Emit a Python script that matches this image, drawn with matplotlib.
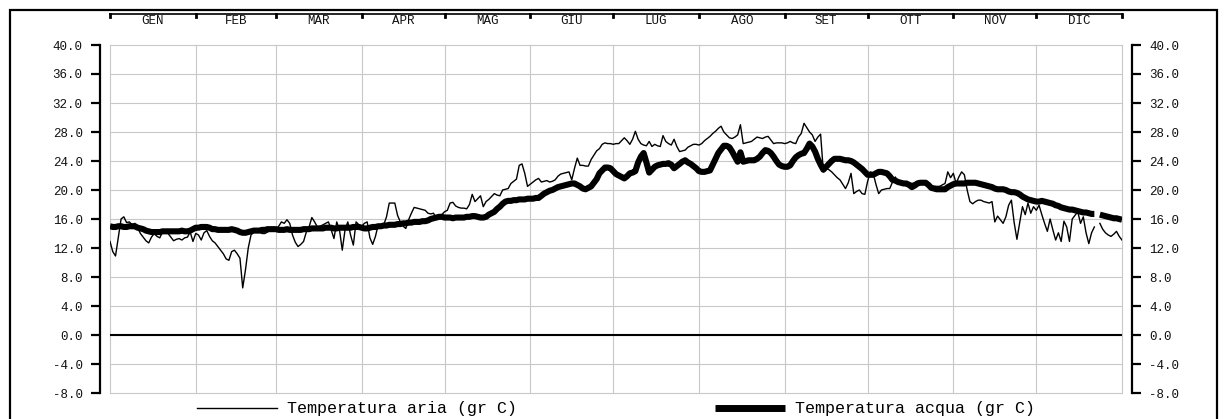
import numpy as np
import matplotlib
matplotlib.use("Agg")
import matplotlib.pyplot as plt
from matplotlib.lines import Line2D
from matplotlib.patches import Rectangle
from matplotlib.transforms import blended_transform_factory

nan = np.nan

months = ["GEN", "FEB", "MAR", "APR", "MAG", "GIU", "LUG", "AGO", "SET", "OTT", "NOV", "DIC"]
month_days = [31, 29, 31, 30, 31, 30, 31, 31, 30, 31, 30, 31]

# daily air temperature (gr C), day 0 .. 366
aria = [
    12.9, 11.5, 10.9, 13.5, 16.0, 16.3, 15.5, 15.6, 15.2, 15.4,
    14.8, 14.0, 13.5, 13.0, 12.7, 13.5, 14.0, 13.6, 13.4, 14.2,
    14.5, 14.0, 13.5, 13.0, 13.2, 13.3, 13.1, 13.4, 13.5, 14.2,
    12.9, 14.0, 13.8, 13.1, 14.1, 14.4, 13.6, 13.0, 12.7, 12.2,
    11.7, 11.2, 10.5, 10.3, 11.5, 11.7, 11.2, 10.6, 6.5, 9.0,
    12.0, 13.8, 14.2, 14.5, 14.2, 14.0, 14.0, 14.2, 14.5, 14.5,
    14.5, 15.0, 15.6, 15.4, 15.9, 15.4, 13.8, 12.8, 12.2, 12.5,
    12.9, 14.2, 14.9, 16.2, 15.6, 14.9, 15.0, 15.2, 15.4, 15.6,
    14.5, 13.3, 15.6, 14.5, 11.7, 14.5, 15.6, 13.8, 12.4, 15.6,
    15.2, 15.0, 15.4, 15.6, 13.4, 12.5, 13.6, 15.2, 14.9, 15.2,
    16.3, 18.2, 18.2, 18.2, 16.5, 15.6, 15.0, 14.7, 15.9, 16.8,
    17.6, 17.5, 17.4, 17.3, 17.2, 16.8, 16.7, 16.8, 16.1, 16.3,
    16.6, 17.0, 17.2, 18.2, 18.3, 17.8, 17.6, 17.5, 17.5, 17.4,
    18.0, 19.4, 18.4, 18.8, 19.2, 17.7, 18.4, 18.7, 19.1, 19.5,
    19.3, 19.2, 20.0, 20.1, 20.2, 20.9, 21.2, 21.5, 23.4, 23.6,
    22.3, 20.5, 20.8, 21.1, 21.4, 21.6, 21.1, 21.2, 21.3, 21.1,
    21.2, 21.4, 21.9, 22.2, 22.3, 22.4, 22.5, 21.4, 23.0, 24.4,
    23.4, 23.4, 23.3, 23.3, 24.2, 24.8, 25.4, 25.7, 26.3, 26.5,
    26.4, 26.4, 26.3, 26.4, 26.4, 26.8, 27.2, 26.8, 26.3, 27.0,
    28.1, 27.0, 26.4, 26.2, 26.1, 26.7, 26.0, 26.3, 26.1, 26.0,
    27.5, 26.7, 26.4, 26.2, 27.0, 26.0, 25.3, 25.4, 25.5, 25.9,
    26.1, 26.3, 26.3, 26.2, 26.4, 26.8, 27.1, 27.4, 27.8, 28.1,
    28.5, 28.8, 28.0, 27.6, 27.2, 27.1, 27.3, 27.6, 29.0, 26.4,
    26.5, 26.6, 26.7, 27.0, 27.3, 27.2, 27.1, 27.3, 27.4, 26.9,
    26.4, 26.5, 26.5, 26.5, 26.4, 26.5, 26.7, 26.5, 26.4, 27.3,
    27.8, 29.2, 28.6, 28.0, 27.6, 26.7, 27.3, 27.7, 22.5, 23.0,
    22.8, 22.5, 22.1, 21.7, 21.4, 20.8, 20.2, 21.0, 22.3, 19.5,
    19.8, 20.0, 19.5, 19.4, 21.2, 22.5, 22.3, 20.8, 19.5, 20.0,
    20.1, 20.2, 20.2, 21.1, 21.8, 21.1, 21.1, 21.1, 21.1, 21.0,
    20.9, 21.0, 21.2, 21.1, 21.0, 21.0, 20.8, 20.5, 20.5, 20.5,
    20.5, 20.7, 20.9, 22.5, 21.7, 22.3, 20.9, 21.8, 22.5, 22.1,
    20.0, 18.4, 18.1, 18.4, 18.6, 18.6, 18.4, 18.3, 18.2, 18.4,
    15.6, 16.4, 15.9, 15.4, 16.3, 17.9, 18.6, 15.5, 13.2, 15.5,
    17.7, 16.6, 18.2, 16.8, 17.7, 17.2, 17.9, 16.6, 15.4, 14.3,
    16.0, 14.5, 13.1, 14.1, 12.9, 15.7, 14.9, 12.9, 16.0, 16.5,
    17.0, 15.4, 16.3, 14.1, 12.6, 14.1, 14.9, nan, 15.4, 14.6,
    14.1, 13.8, 13.6, 13.9, 14.3, 13.6, 13.1,
]

# daily water temperature (gr C), day 0 .. 366
acqua = [
    15.0, 14.9, 14.9, 15.0, 15.0, 14.9, 14.9, 15.0, 15.0, 15.0,
    14.8, 14.7, 14.6, 14.4, 14.3, 14.2, 14.2, 14.2, 14.2, 14.3,
    14.3, 14.3, 14.3, 14.3, 14.3, 14.3, 14.4, 14.3, 14.3, 14.4,
    14.6, 14.8, 14.8, 14.9, 14.9, 14.9, 14.8, 14.6, 14.6, 14.5,
    14.5, 14.5, 14.5, 14.5, 14.6, 14.5, 14.4, 14.2, 14.1, 14.1,
    14.2, 14.3, 14.4, 14.4, 14.4, 14.5, 14.5, 14.6, 14.6, 14.6,
    14.6, 14.5, 14.5, 14.5, 14.6, 14.5, 14.5, 14.5, 14.5, 14.5,
    14.6, 14.6, 14.6, 14.7, 14.7, 14.7, 14.7, 14.7, 14.8, 14.8,
    14.8, 14.7, 14.7, 14.8, 14.8, 14.8, 14.8, 14.8, 14.9, 14.9,
    14.9, 14.8, 14.7, 14.7, 14.8, 14.9, 14.9, 15.0, 15.0, 15.1,
    15.1, 15.2, 15.2, 15.2, 15.3, 15.3, 15.4, 15.4, 15.5, 15.5,
    15.6, 15.6, 15.6, 15.7, 15.7, 15.8, 16.0, 16.1, 16.2, 16.3,
    16.3, 16.2, 16.2, 16.2, 16.1, 16.2, 16.2, 16.2, 16.2, 16.3,
    16.3, 16.4, 16.4, 16.3, 16.2, 16.2, 16.3, 16.6, 16.8, 17.0,
    17.4, 17.7, 18.1, 18.4, 18.5, 18.5, 18.6, 18.6, 18.7, 18.7,
    18.7, 18.8, 18.8, 18.8, 18.9, 18.9, 19.2, 19.5, 19.7, 19.9,
    20.0, 20.2, 20.4, 20.5, 20.6, 20.7, 20.8, 20.9, 20.9, 20.7,
    20.5, 20.2, 20.1, 20.3, 20.5, 21.0, 21.5, 22.3, 22.7, 23.1,
    23.1, 23.0, 22.6, 22.2, 22.0, 21.8, 21.6, 21.9, 22.3, 22.4,
    22.6, 23.8, 24.6, 25.1, 23.8, 22.4, 22.8, 23.2, 23.4, 23.5,
    23.6, 23.6, 23.7, 23.5, 23.0, 23.3, 23.6, 23.9, 24.1, 23.8,
    23.6, 23.3, 23.0, 22.6, 22.5, 22.5, 22.6, 22.7, 23.5, 24.3,
    25.1, 25.6, 26.1, 26.1, 25.9, 25.3, 24.6, 23.9, 25.2, 23.9,
    24.0, 24.1, 24.1, 24.1, 24.3, 24.6, 25.1, 25.5, 25.4, 25.1,
    24.6, 24.0, 23.5, 23.3, 23.2, 23.2, 23.4, 24.0, 24.5, 24.8,
    25.0, 25.1, 25.7, 26.4, 26.0, 25.3, 24.3, 23.5, 22.8, 23.2,
    23.6, 24.0, 24.3, 24.3, 24.3, 24.2, 24.1, 24.1, 24.0, 23.8,
    23.5, 23.2, 22.9, 22.5, 22.1, 22.1, 22.1, 22.3, 22.5, 22.5,
    22.4, 22.3, 21.9, 21.4, 21.3, 21.1, 21.0, 20.9, 20.9, 20.7,
    20.4, 20.6, 20.9, 21.0, 21.0, 21.0, 20.7, 20.3, 20.2, 20.1,
    20.1, 20.1, 20.1, 20.4, 20.6, 20.8, 20.9, 20.9, 20.9, 20.9,
    21.0, 21.0, 21.0, 21.0, 20.9, 20.8, 20.7, 20.6, 20.5, 20.4,
    20.2, 20.1, 20.1, 20.1, 20.0, 19.8, 19.7, 19.7, 19.6, 19.4,
    19.1, 18.9, 18.7, 18.6, 18.5, 18.4, 18.4, 18.5, 18.4, 18.3,
    18.2, 18.1, 17.9, 17.8, 17.6, 17.5, 17.4, 17.3, 17.3, 17.2,
    17.1, 17.0, 16.9, 16.9, 16.8, 16.7, 16.7, nan, 16.6, 16.5,
    16.4, 16.3, 16.2, 16.1, 16.1, 16.0, 15.9,
]

y_ticks = [-8, -4, 0, 4, 8, 12, 16, 20, 24, 28, 32, 36, 40]

W, H = 1226, 419
FONT = "Liberation Mono"
plt.rcParams['font.family'] = [FONT, 'DejaVu Sans Mono']


def fx(x):
    return x / W


def fy(y):
    return 1 - y / H


fig = plt.figure(figsize=(W / 100, H / 100), dpi=100)
fig.patch.set_facecolor('white')

# outer frame
fig.patches.append(Rectangle((fx(10), -0.1), fx(1217) - fx(10), fy(10) + 0.1,
                             transform=fig.transFigure, fill=False,
                             lw=1.6, ec='black', zorder=0))

ax = fig.add_axes([fx(110), fy(393), fx(1122) - fx(110), fy(45) - fy(393)])
days = np.arange(len(aria))
bounds = np.concatenate([[0], np.cumsum(month_days)])

ax.set_xlim(0, bounds[-1])
ax.set_ylim(-8, 40)

# grid
for yv in y_ticks:
    ax.axhline(yv, color='#c8c8c8', lw=0.8, zorder=1, clip_on=False)
for b in bounds:
    ax.axvline(b, color='#c8c8c8', lw=0.8, zorder=1, clip_on=False)
ax.axhline(0, color='black', lw=1.5, zorder=2)

ax.plot(days, aria, color='black', lw=1.0, zorder=3)
ax.plot(days, acqua, color='black', lw=4.4, zorder=4,
        solid_joinstyle='round', solid_capstyle='butt')

# left / right value axes
ax.spines['top'].set_visible(False)
ax.spines['bottom'].set_visible(False)
for side in ['left', 'right']:
    ax.spines[side].set_position(('outward', 7.2))
    ax.spines[side].set_linewidth(1.6)
ax.set_xticks([])
ax.set_yticks(y_ticks)
ax.set_yticklabels(['%.1f' % v for v in y_ticks])
ax.tick_params(axis='y', which='both', direction='out', length=6.5, width=1.6,
               labelsize=9, pad=6, left=True, right=True,
               labelleft=True, labelright=True, labelcolor='#111111')

# month band on top
trans = blended_transform_factory(ax.transData, fig.transFigure)
fig.lines.append(Line2D([0, bounds[-1]], [fy(14.5), fy(14.5)], transform=trans,
                        color='black', lw=1.2))
for b in bounds:
    fig.lines.append(Line2D([b, b], [fy(14.5), fy(17.5)], transform=trans,
                            color='black', lw=2.0))
for i, m in enumerate(months):
    mid = (bounds[i] + bounds[i + 1]) / 2
    fig.text(mid, fy(21), m, transform=trans, ha='center', va='center',
             fontsize=9, family=FONT, color='#111111')

# legend
fig.lines.append(Line2D([fx(197), fx(277)], [fy(408), fy(408)],
                        transform=fig.transFigure, color='black', lw=1.0))
fig.text(fx(287), fy(408), "Temperatura aria (gr C)", ha='left', va='center',
         fontsize=12, family=FONT)
fig.lines.append(Line2D([fx(715), fx(785)], [fy(408), fy(408)],
                        transform=fig.transFigure, color='black', lw=5.0,
                        solid_capstyle='butt'))
fig.text(fx(795), fy(408), "Temperatura acqua (gr C)", ha='left', va='center',
         fontsize=12, family=FONT)

fig.savefig('out.png', dpi=100)
